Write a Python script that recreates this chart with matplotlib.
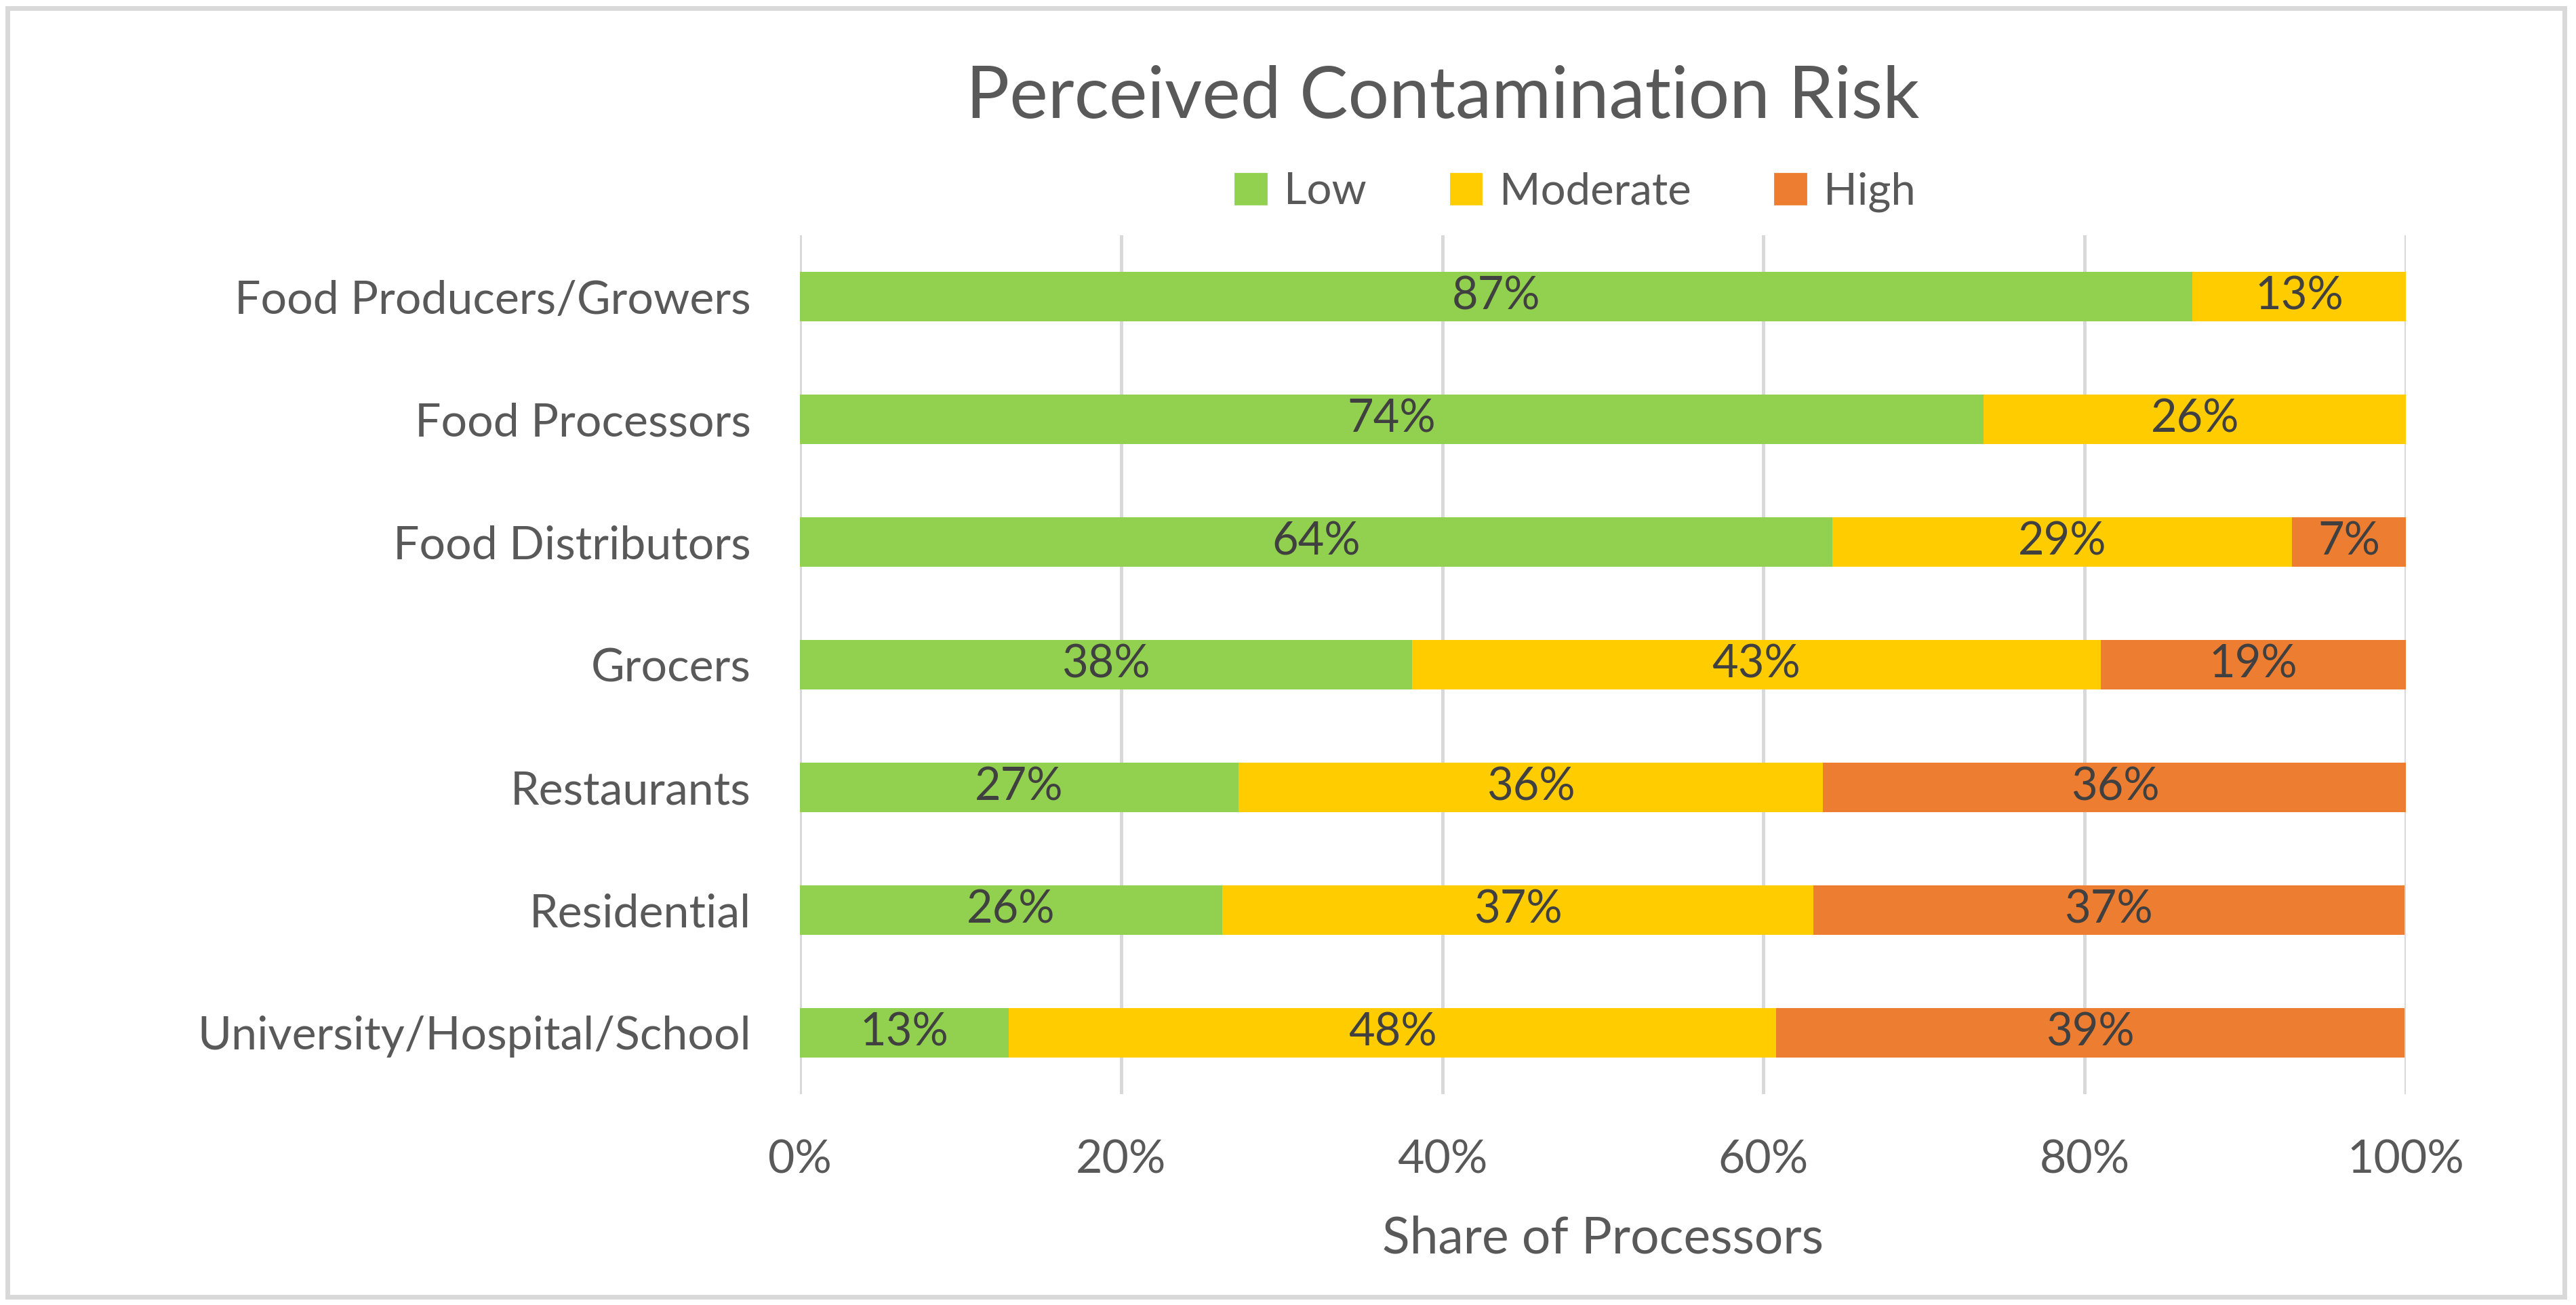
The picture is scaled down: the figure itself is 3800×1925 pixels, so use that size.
import numpy as np
import matplotlib
matplotlib.use('Agg')
import matplotlib.pyplot as plt
from matplotlib.patches import Rectangle, Patch

# datos (porcentajes por categoría)
categories = ['Food Producers/Growers', 'Food Processors', 'Food Distributors',
              'Grocers', 'Restaurants', 'Residential', 'University/Hospital/School']
low = [86.7, 73.7, 64.3, 38.1, 27.3, 26.3, 13.0]
moderate = [13.3, 26.3, 28.6, 42.9, 36.4, 36.8, 47.8]
high = [0.0, 0.0, 7.1, 19.0, 36.4, 36.8, 39.1]
series_names = ['Low', 'Moderate', 'High']
xticks = [0, 20, 40, 60, 80, 100]

colors = ['#92D050', '#FFCC00', '#ED7D31']
txt = '#595959'

plt.rcParams['font.family'] = ['Lato', 'DejaVu Sans']

fig = plt.figure(figsize=(19, 9.625), dpi=200)
ax = fig.add_axes([0.3105, 0.1616, 0.6235, 0.6581])

y = np.arange(len(categories))
left = np.zeros(len(categories))
for name, vals, c in zip(series_names, [low, moderate, high], colors):
    vals = np.array(vals)
    bars = ax.barh(y, vals, left=left, height=0.4, color=c, label=name, zorder=3)
    for b, v in zip(bars, vals):
        if v > 0:
            ax.text(b.get_x() + b.get_width() / 2, b.get_y() + b.get_height() / 2,
                    f'{round(v):.0f}%', ha='center', va='center',
                    fontsize=24, color='#404040', zorder=4)
    left += vals

ax.set_xlim(0, 100)
ax.set_ylim(len(categories) - 0.5, -0.5)
ax.set_yticks(y)
ax.set_yticklabels(categories)
ax.set_xticks(xticks)
ax.set_xticklabels([f'{t}%' for t in xticks])
ax.tick_params(axis='both', length=0, labelsize=24.5, labelcolor=txt)
ax.tick_params(axis='y', pad=26)
ax.tick_params(axis='x', pad=24)
ax.grid(axis='x', color='#D9D9D9', linewidth=1.8, zorder=0)
for s in ax.spines.values():
    s.set_visible(False)

ax.set_xlabel('Share of Processors', fontsize=27, color=txt, labelpad=18)

fig.text(0.56, 0.925, 'Perceived Contamination Risk', ha='center', va='center',
         fontsize=38.5, color=txt)

handles = [Patch(color=c, label=n) for n, c in zip(series_names, colors)]
fig.legend(handles=handles, loc='center', bbox_to_anchor=(0.6116, 0.853), ncol=3,
           frameon=False, fontsize=23.5, labelcolor=txt, handlelength=0.7,
           handleheight=0.7, handletextpad=0.4, columnspacing=1.9)

fig.patches.append(Rectangle((0.003, 0.006), 0.9925, 0.988, transform=fig.transFigure,
                             fill=False, edgecolor='#D9D9D9', linewidth=2.5))

fig.savefig('out.png', dpi=200)
